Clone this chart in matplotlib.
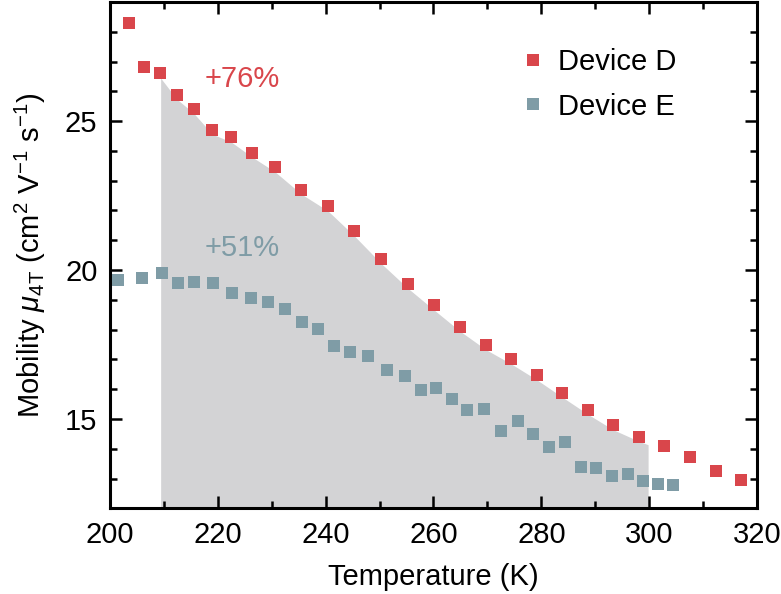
import numpy as np
import matplotlib
matplotlib.use("Agg")
import matplotlib.pyplot as plt
from matplotlib.ticker import MultipleLocator

plt.rcParams["font.family"] = ["Liberation Sans", "DejaVu Sans"]
plt.rcParams["mathtext.fontset"] = "custom"
plt.rcParams["mathtext.rm"] = "Liberation Sans"
plt.rcParams["mathtext.it"] = "Liberation Sans:italic"

# Device D (red)
temp_d = [203.6, 206.3, 209.3, 212.4, 215.5, 219.0, 222.4, 226.4, 230.6, 235.5,
          240.4, 245.3, 250.3, 255.3, 260.1, 264.9, 269.7, 274.4, 279.2, 283.9,
          288.7, 293.3, 298.1, 302.8, 307.5, 312.3, 317.1]
mob_d = [28.28, 26.82, 26.62, 25.89, 25.42, 24.71, 24.46, 23.94, 23.45, 22.70,
         22.14, 21.30, 20.37, 19.53, 18.81, 18.10, 17.48, 17.00, 16.46, 15.88,
         15.30, 14.79, 14.40, 14.08, 13.72, 13.24, 12.96]

# Device E (grey-blue)
temp_e = [201.5, 205.9, 209.7, 212.7, 215.5, 219.2, 222.7, 226.1, 229.3, 232.4,
          235.6, 238.6, 241.6, 244.5, 247.9, 251.3, 254.7, 257.7, 260.5, 263.4,
          266.2, 269.3, 272.5, 275.6, 278.5, 281.4, 284.3, 287.3, 290.1, 293.1,
          296.0, 298.8, 301.7, 304.5]
mob_e = [19.66, 19.73, 19.91, 19.56, 19.59, 19.56, 19.22, 19.05, 18.92, 18.69,
         18.24, 18.01, 17.46, 17.25, 17.11, 16.64, 16.44, 15.97, 16.05, 15.66,
         15.29, 15.35, 14.61, 14.93, 14.48, 14.05, 14.22, 13.39, 13.36, 13.07,
         13.15, 12.90, 12.83, 12.79]

shade_range = (209.4, 299.8)
red = "#d9464b"
blue = "#7f9ca6"
fs = 21

fig = plt.figure(figsize=(7.81, 5.94), dpi=100)
ax = fig.add_axes([0.1408, 0.1443, 0.8285, 0.8523])

# shaded area under the Device D curve
td = np.array(temp_d)
md = np.array(mob_d)
ts = np.concatenate([[shade_range[0]],
                     td[(td > shade_range[0]) & (td < shade_range[1])],
                     [shade_range[1]]])
ms = np.interp(ts, td, md)
ax.fill_between(ts, ms - 0.15, 12, color="#d3d3d5", lw=0, zorder=1)

ax.plot(temp_d, mob_d, "s", color=red, ms=9, mew=0, label="Device D", zorder=3)
ax.plot(temp_e, mob_e, "s", color=blue, ms=9, mew=0, label="Device E", zorder=3)

ax.text(224.5, 26.4, "+76%", color=red, fontsize=fs, ha="center", va="center")
ax.text(224.5, 20.75, "+51%", color=blue, fontsize=fs, ha="center", va="center")

ax.set_xlim(200, 320)
ax.set_ylim(12, 29)
ax.xaxis.set_major_locator(MultipleLocator(20))
ax.xaxis.set_minor_locator(MultipleLocator(10))
ax.yaxis.set_major_locator(MultipleLocator(5))
ax.yaxis.set_minor_locator(MultipleLocator(1))
ax.tick_params(which="both", direction="in", top=True, right=True,
               width=1.8, labelsize=fs)
ax.tick_params(which="major", length=8.5, pad=9)
ax.tick_params(which="minor", length=5)
for s in ax.spines.values():
    s.set_linewidth(2.2)

ax.set_xlabel("Temperature (K)", fontsize=fs, labelpad=10)
ax.set_ylabel(r"Mobility $\mu_{\rm 4T}$ (cm$^{2}$ V$^{-1}$ s$^{-1}$)",
              fontsize=fs, labelpad=12)

ax.legend(loc="upper left", bbox_to_anchor=(0.613, 0.937), frameon=False,
          fontsize=fs, handlelength=0.8, handletextpad=0.45, labelspacing=0.55,
          borderpad=0)

fig.savefig("out.png", dpi=100)
